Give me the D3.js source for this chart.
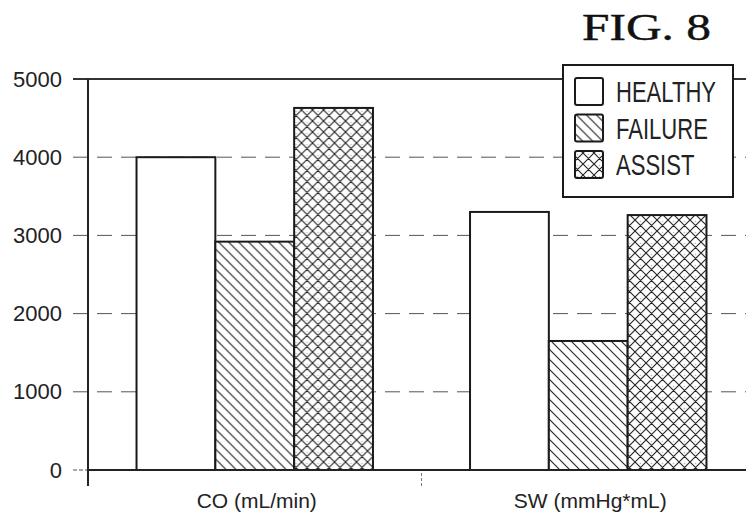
<!DOCTYPE html>
<html>
<head>
<meta charset="utf-8">
<script src="https://cdn.jsdelivr.net/npm/d3@7"></script>
<style>
  html, body { margin: 0; padding: 0; background: #fff; }
  svg { display: block; }
</style>
</head>
<body>
<svg id="chart" width="746" height="523"></svg>
<script>
// ---- data ----
const categories = ["CO (mL/min)", "SW (mmHg*mL)"];
const seriesNames = ["HEALTHY", "FAILURE", "ASSIST"];
const healthy = [4000, 3300];
const failure = [2920, 1650];
const assist  = [4630, 3260];
const yTicks  = [0, 1000, 2000, 3000, 4000, 5000];
const title = "FIG. 8";

(function () {
const seriesValues = [healthy, failure, assist];

const svg = d3.select("#chart");
const defs = svg.append("defs");

// patterns
const pFail = defs.append("pattern").attr("id", "pFail")
  .attr("patternUnits", "userSpaceOnUse").attr("width", 10).attr("height", 10);
pFail.append("rect").attr("width", 10).attr("height", 10).attr("fill", "#fff");
pFail.append("path").attr("d", "M0,0 L10,10 M-2,8 L2,12 M8,-2 L12,2")
  .attr("stroke", "#222").attr("stroke-width", 1.1);

const pAssist = defs.append("pattern").attr("id", "pAssist")
  .attr("patternUnits", "userSpaceOnUse").attr("width", 11).attr("height", 11);
pAssist.append("rect").attr("width", 11).attr("height", 11).attr("fill", "#fff");
pAssist.append("circle").attr("cx", 5.5).attr("cy", 1.5).attr("r", 0.8).attr("fill", "#bbb");
pAssist.append("path").attr("d", "M0,0 L11,11 M-2,9 L2,13 M9,-2 L13,2 M11,0 L0,11 M-2,2 L2,-2 M9,13 L13,9")
  .attr("stroke", "#222").attr("stroke-width", 1.1);

const fills = ["#fff", "url(#pFail)", "url(#pAssist)"];

// layout
const mLeft = 88, mRight = 755, mTop = 79, mBottom = 470;

const y = d3.scaleLinear().domain([0, 5000]).range([mBottom, mTop]);
const x0 = d3.scaleBand().domain(categories).range([mLeft, mRight])
  .paddingInner(0.291).paddingOuter(0.1455);
const x1 = d3.scaleBand().domain(seriesNames).range([0, x0.bandwidth()]).padding(0);

// gridlines + tick marks (extend left of axis)
svg.append("g").selectAll("line").data(yTicks.filter(d => d > 0)).join("line")
  .attr("x1", mLeft - 15).attr("x2", 746)
  .attr("y1", d => y(d)).attr("y2", d => y(d))
  .attr("stroke", d => d === 5000 ? "#333" : "#555")
  .attr("stroke-width", d => d === 5000 ? 1.8 : 1)
  .attr("stroke-dasharray", d => d === 5000 ? null : "15,9");

// zero tick left of axis
svg.append("line").attr("x1", mLeft - 15).attr("x2", mLeft)
  .attr("y1", y(0)).attr("y2", y(0)).attr("stroke", "#555").attr("stroke-width", 1)
  .attr("stroke-dasharray", "4,2");

// tick labels via axis
const yAxis = d3.axisLeft(y).tickValues(yTicks).tickSize(0).tickPadding(26)
  .tickFormat(d3.format("d"));
const ya = svg.append("g").attr("transform", `translate(${mLeft},0)`).call(yAxis);
ya.select(".domain").remove();
ya.selectAll("text").attr("font-family", "Liberation Sans, Arial, sans-serif")
  .attr("font-size", 22).attr("fill", "#222");

// bars
const groups = svg.append("g").selectAll("g").data(categories).join("g")
  .attr("transform", d => `translate(${x0(d)},0)`);
groups.selectAll("rect")
  .data((c, ci) => seriesNames.map((s, si) => ({ s, si, v: seriesValues[si][ci] })))
  .join("rect")
  .attr("x", d => x1(d.s)).attr("width", x1.bandwidth())
  .attr("y", d => y(d.v)).attr("height", d => y(0) - y(d.v))
  .attr("fill", d => fills[d.si])
  .attr("stroke", "#1a1a1a").attr("stroke-width", 2);

// frame: left axis and baseline
svg.append("line").attr("x1", mLeft).attr("x2", mLeft).attr("y1", mTop).attr("y2", mBottom + 16)
  .attr("stroke", "#222").attr("stroke-width", 2);
svg.append("line").attr("x1", mLeft).attr("x2", 746).attr("y1", mBottom).attr("y2", mBottom)
  .attr("stroke", "#222").attr("stroke-width", 2);

// category separator tick
const sep = (x0(categories[0]) + x0.bandwidth() + x0(categories[1])) / 2;
svg.append("line").attr("x1", sep).attr("x2", sep).attr("y1", mBottom + 3).attr("y2", mBottom + 16)
  .attr("stroke", "#777").attr("stroke-width", 1).attr("stroke-dasharray", "3,2");

// category labels
svg.append("g").selectAll("text").data(categories).join("text")
  .attr("x", d => x0(d) + x0.bandwidth() / 2 + 2).attr("y", 508)
  .attr("text-anchor", "middle")
  .attr("font-family", "Liberation Sans, Arial, sans-serif").attr("font-size", 21)
  .attr("fill", "#222").text(d => d);

// legend
const lg = svg.append("g");
lg.append("rect").attr("x", 563).attr("y", 65).attr("width", 170).attr("height", 132)
  .attr("fill", "#fff").attr("stroke", "#1a1a1a").attr("stroke-width", 2);
const items = lg.selectAll("g.item").data(seriesNames).join("g").attr("class", "item")
  .attr("transform", (d, i) => `translate(0,${102 + i * 36.5})`);
items.append("rect").attr("x", 575).attr("y", -24).attr("width", 28).attr("height", 27)
  .attr("rx", 2).attr("fill", (d, i) => fills[i])
  .attr("stroke", "#1a1a1a").attr("stroke-width", 2);
items.append("g").attr("transform", "translate(616,0) scale(0.76,1)")
  .append("text").attr("x", 0).attr("y", 0)
  .attr("font-family", "Liberation Sans, Arial, sans-serif").attr("font-size", 29)
  .attr("fill", "#222").text(d => d);

// title
svg.append("g").attr("transform", "translate(582,40) scale(1.3,1)")
  .append("text").attr("x", 0).attr("y", 0)
  .attr("font-family", "Liberation Serif, Times New Roman, serif").attr("font-size", 38)
  .attr("fill", "#111").attr("stroke", "#111").attr("stroke-width", 0.4)
  .text(title);
})();
</script>
</body>
</html>
